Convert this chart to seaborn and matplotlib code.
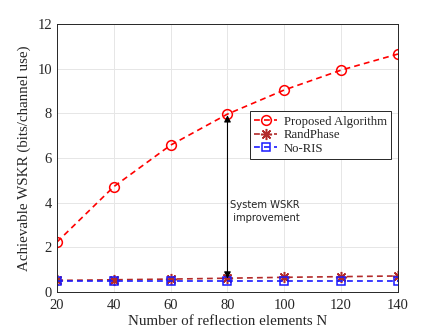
import numpy as np
import pandas as pd
import matplotlib
matplotlib.use("Agg")
import matplotlib.pyplot as plt
import seaborn as sns

# data
N = [20, 40, 60, 80, 100, 120, 140]
proposed = [2.24, 4.72, 6.58, 7.97, 9.05, 9.94, 10.66]
randphase = [0.52, 0.55, 0.58, 0.62, 0.66, 0.69, 0.72]
noris = [0.50, 0.50, 0.50, 0.50, 0.50, 0.50, 0.50]

sns.set_style("white")
plt.rcParams['font.family'] = ['Liberation Serif', 'DejaVu Serif']

fig = plt.figure(figsize=[4.4, 3.3], dpi=100)
ax = fig.add_axes([0.1295, 0.115, 0.775, 0.812])

series = [
    ("Proposed Algorithm", proposed, "#ff0000", "o", 7, "none"),
    ("RandPhase", randphase, "#b22a2a", (8, 2, 0), 8, None),
    ("No-RIS", noris, "#1a1aff", "s", 6, "none"),
]
for name, vals, col, mk, ms, mfc in series:
    df = pd.DataFrame({"N": N, "v": vals})
    kw = dict(markerfacecolor=mfc) if mfc else dict(markerfacecolor=col)
    sns.lineplot(data=df, x="N", y="v", ax=ax, color=col, linestyle=(0, (3.5, 2.5)),
                 marker=mk, markersize=ms, markeredgecolor=col, markeredgewidth=1.1,
                 linewidth=1.2, label=name, **kw)

# double arrow showing improvement
ax.annotate("", xy=(80, proposed[3] - 0.05), xytext=(80, noris[3] + 0.1),
            arrowprops=dict(arrowstyle="<|-|>", color="black", lw=0.8,
                            mutation_scale=10, shrinkA=0, shrinkB=0))
ax.text(80.8, 3.6, "System WSKR\n improvement", fontsize=7.2,
        family=['DejaVu Sans'], va="center", ha="left", linespacing=1.4)

ax.set_xlim(20, 140)
ax.set_ylim(0, 12)
ax.set_xticks(N)
ax.set_yticks([0, 2, 4, 6, 8, 10, 12])
ax.grid(True, color="#e6e6e6", linewidth=0.7)
ax.tick_params(labelsize=10.5, direction="in", length=3, colors="#262626")
ax.tick_params(axis="x", pad=5)
for s in ax.spines.values():
    s.set_color("#262626")
    s.set_linewidth(0.7)
ax.set_xlabel("Number of reflection elements N", fontsize=10.8, labelpad=2)
ax.set_ylabel("Achievable WSKR (bits/channel use)", fontsize=10.8, labelpad=5)

leg = ax.legend(loc="upper left", bbox_to_anchor=(0.565, 0.675), fontsize=9.2,
                frameon=True, fancybox=False, edgecolor="#262626", framealpha=1,
                handlelength=1.8, handletextpad=0.5, borderpad=0.35,
                labelspacing=0.12, borderaxespad=0)
leg.get_frame().set_linewidth(0.7)

plt.savefig("out.png", dpi=100)
